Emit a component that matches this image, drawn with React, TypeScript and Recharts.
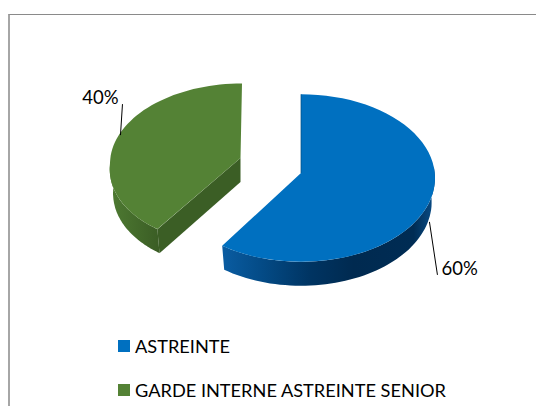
import { PieChart, Pie, Cell, Legend } from 'recharts';

const categories = ['ASTREINTE', 'GARDE INTERNE ASTREINTE SENIOR'];
const shares = [60, 40];
const colors = ['#0070C0', '#548235'];

const tableData = categories.map((name, i) => ({ name, value: shares[i] }));

const DEPTH = 24;
const LOWER_RIM = 0.975;
// exploded offset, size factor and lean of each slice, the pie is drawn in fake 3D
const slices = [
    { dx: 30, dy: 8, apexLift: 5, apexShift: 0, scale: 1, tilt: 0.625, lean: 0 },
    { dx: -29, dy: -6, apexLift: 6, apexShift: -1.5, scale: 0.985, tilt: 0.61, lean: 0.108 },
];
const labelEnds = [
    { startDy: 18, startDx: 1, lineX: 8, lineY: 53, textX: 12, textY: 53 },
    { startDy: -4, startDx: 4, lineX: 2, lineY: -31, textX: -2, textY: -31 },
];

function project(cx: number, cy: number, rx: number, ry: number, lean: number, deg: number) {
    const a = (deg * Math.PI) / 180;
    const y = -ry * Math.sin(a);
    return { x: cx + rx * Math.cos(a) + lean * Math.min(0, -y), y: cy + y };
}

function arcPoints(cx: number, cy: number, rx: number, ry: number, lean: number, from: number, to: number) {
    const steps = 60;
    const pts = [];
    for (let i = 0; i <= steps; i++) {
        pts.push(project(cx, cy, rx, ry, lean, from + ((to - from) * i) / steps));
    }
    return pts;
}

const toPath = (pts: { x: number; y: number }[]) =>
    pts.map((p, i) => `${i ? 'L' : 'M'}${p.x.toFixed(1)},${p.y.toFixed(1)}`).join(' ');

// wall of a slice: the rim on top, the same rim a bit narrower and lower underneath
function wallPath(rim: { x: number; y: number }[], ex: number) {
    const lower = rim.map((p) => ({ x: ex + (p.x - ex) * LOWER_RIM, y: p.y + DEPTH })).reverse();
    return toPath(rim) + ' ' + toPath(lower).replace('M', 'L') + ' Z';
}

function Slice3D(props: any) {
    const { cx, cy, outerRadius, startAngle, endAngle, index } = props;
    const s = slices[index];
    const rx = outerRadius * s.scale;
    const ry = outerRadius * s.tilt * s.scale;
    const ex = cx + s.dx;
    const ey = cy + s.dy;
    const apex = { x: ex + s.apexShift, y: ey - s.apexLift };
    const rim = arcPoints(ex, ey, rx, ry, s.lean, startAngle, endAngle);
    const top = toPath(rim) + ` L${apex.x},${apex.y} Z`;

    if (index === 0) {
        // right slice: only the curved wall shows
        const wall = arcPoints(ex, ey, rx, ry, s.lean, 8, endAngle);
        return (
            <g>
                <defs>
                    <linearGradient id="blueWall" gradientUnits="userSpaceOnUse" x1={ex - rx * 0.6} x2={ex + rx} y1={0} y2={0}>
                        <stop offset="0" stopColor="#0a5da3" />
                        <stop offset="0.18" stopColor="#044c88" />
                        <stop offset="0.42" stopColor="#003462" />
                        <stop offset="0.62" stopColor="#002a50" />
                        <stop offset="0.9" stopColor="#002c54" />
                        <stop offset="1" stopColor="#0a4f8a" />
                    </linearGradient>
                </defs>
                <path d={wallPath(wall, ex)} fill="url(#blueWall)" />
                <path d={top} fill={colors[index]} />
                <line x1={apex.x} y1={ey - ry} x2={apex.x} y2={apex.y} stroke="#004a80" strokeWidth={0.7} />
            </g>
        );
    }

    // left slice: curved wall from its leftmost point to the tip, plus the cut face
    const wall = arcPoints(ex, ey, rx, ry, s.lean, -180, startAngle);
    const tip = rim[0];
    const tipLow = { x: ex + (tip.x - ex) * LOWER_RIM, y: tip.y + DEPTH };
    const cut = `M${tip.x},${tip.y} L${apex.x},${apex.y} L${apex.x},${apex.y + DEPTH} L${tipLow.x},${tipLow.y} Z`;
    return (
        <g>
            <defs>
                <linearGradient id="greenWall" gradientUnits="userSpaceOnUse" x1={ex - rx} x2={tip.x} y1={0} y2={0}>
                    <stop offset="0" stopColor="#4e7a32" />
                    <stop offset="1" stopColor="#3b5e25" />
                </linearGradient>
            </defs>
            <path d={wallPath(wall, ex)} fill="url(#greenWall)" />
            <path d={cut} fill="#3b5e25" />
            <path d={top} fill={colors[index]} />
        </g>
    );
}

function SliceLabel(props: any) {
    const { cx, cy, outerRadius, midAngle, index, value } = props;
    const s = slices[index];
    const e = labelEnds[index];
    const p = project(cx + s.dx, cy + s.dy, outerRadius * s.scale, outerRadius * s.tilt * s.scale, s.lean, midAngle);
    const startX = p.x + e.startDx;
    const startY = p.y + e.startDy;
    return (
        <g>
            <line x1={startX} y1={startY} x2={startX + e.lineX} y2={startY + e.lineY} stroke="#000" strokeWidth={1} />
            <text
                x={startX + e.textX}
                y={startY + e.textY}
                fontFamily="Lato, sans-serif"
                fontSize={18.5}
                fill="#000"
                textAnchor={index === 0 ? 'start' : 'end'}
            >
                {value}%
            </text>
        </g>
    );
}

function LegendList({ payload }: any) {
    return (
        <div>
            {(payload || []).map((item: any) => (
                <div key={item.value} style={{ display: 'flex', alignItems: 'center', height: 22, marginBottom: 22 }}>
                    <span style={{ width: 12, height: 12, background: item.color, marginRight: 5 }} />
                    <span style={{ fontFamily: 'Lato, sans-serif', fontSize: 18.2, color: '#000', whiteSpace: 'nowrap' }}>
                        {item.value}
                    </span>
                </div>
            ))}
        </div>
    );
}

export default function App() {
    return (
        <div style={{ position: 'absolute', left: 0, top: 0, width: 536, height: 406, overflow: 'hidden', background: '#fff' }}>
            <div
                style={{
                    position: 'absolute',
                    left: 8,
                    top: 14,
                    width: 528,
                    height: 392,
                    borderLeft: '2px solid #a6a6a6',
                    borderTop: '1px solid #8a8a8a',
                    boxSizing: 'border-box',
                }}
            />
            <PieChart
                width={536}
                height={406}
                margin={{ top: 0, right: 0, bottom: 0, left: 0 }}
                style={{ position: 'absolute', left: 0, top: 0 }}
            >
                <Pie
                    data={tableData}
                    dataKey="value"
                    nameKey="name"
                    cx={271}
                    cy={170}
                    outerRadius={134}
                    startAngle={90}
                    endAngle={-270}
                    stroke="none"
                    isAnimationActive={false}
                    shape={Slice3D}
                    label={SliceLabel}
                    labelLine={false}
                >
                    {tableData.map((d, i) => (
                        <Cell key={d.name} fill={colors[i]} />
                    ))}
                </Pie>
                <Legend
                    layout="horizontal"
                    align="left"
                    verticalAlign="bottom"
                    content={LegendList}
                    wrapperStyle={{ left: 118, top: 335, bottom: 'auto', width: 410 }}
                />
            </PieChart>
        </div>
    );
}
